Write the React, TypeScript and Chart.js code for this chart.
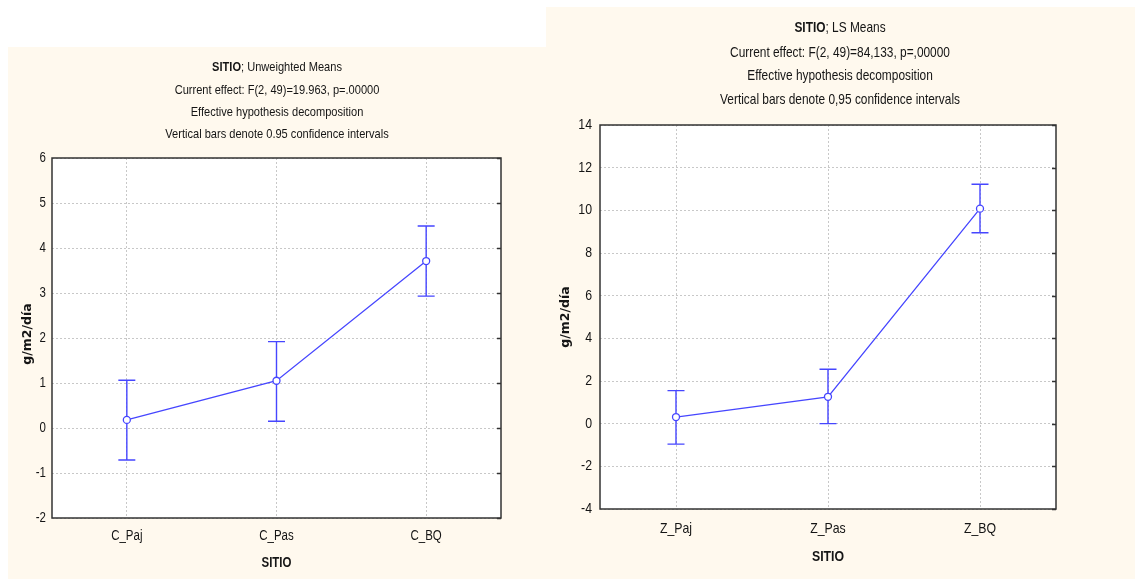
import React, { useEffect, useRef } from "react";
import { Chart, registerables } from "chart.js";

Chart.register(...registerables);

// ---- data: unweighted means (left) ----
const leftCategories = ["C_Paj", "C_Pas", "C_BQ"];
const leftMeans = [0.18, 1.05, 3.71];
const leftLower = [-0.71, 0.15, 2.93];
const leftUpper = [1.06, 1.92, 4.49];
const leftYTicks = [-2, -1, 0, 1, 2, 3, 4, 5, 6];
const leftHeadBold = "SITIO";
const leftHeadRest = "; Unweighted Means";
const leftHeadLines = [
  "Current effect: F(2, 49)=19.963, p=.00000",
  "Effective hypothesis decomposition",
  "Vertical bars denote 0.95 confidence intervals",
];

// ---- data: LS means (right) ----
const rightCategories = ["Z_Paj", "Z_Pas", "Z_BQ"];
const rightMeans = [0.31, 1.26, 10.08];
const rightLower = [-0.96, 0.0, 8.95];
const rightUpper = [1.55, 2.55, 11.22];
const rightYTicks = [-4, -2, 0, 2, 4, 6, 8, 10, 12, 14];
const rightHeadBold = "SITIO";
const rightHeadRest = "; LS Means";
const rightHeadLines = [
  "Current effect: F(2, 49)=84,133, p=,00000",
  "Effective hypothesis decomposition",
  "Vertical bars denote 0,95 confidence intervals",
];

const xAxisTitle = "SITIO";
const yAxisTitle = "g/m2/día";

// Arial-metric face, squeezed horizontally to a narrow cut
const SANS = '"Liberation Sans", Arial, sans-serif';
const NARROW_SCALE = 0.82;
const BOLD_TITLE = '"DejaVu Sans", Verdana, sans-serif';
const BLUE = "#4646ff";
const TEXT = "#151515";
const PANEL_BG = "#fff9ee";

type PanelSpec = {
  left: number;
  top: number;
  width: number;
  height: number;
  area: { l: number; t: number; r: number; b: number };
  categories: string[];
  means: number[];
  lower: number[];
  upper: number[];
  yTicks: number[];
  headBold: string;
  headRest: string;
  headLines: string[];
  headX: number;
  headY: number[];
  headSize: number;
  tickSize: number;
  yLabelRight: number;
  xLabelY: number;
  xTitleY: number;
  xTitleSize: number;
  yTitleX: number;
  yTitleShift: number;
};

const panels: PanelSpec[] = [
  {
    left: 8,
    top: 47,
    width: 538,
    height: 532,
    area: { l: 44, t: 111, r: 493, b: 471 },
    categories: leftCategories,
    means: leftMeans,
    lower: leftLower,
    upper: leftUpper,
    yTicks: leftYTicks,
    headBold: leftHeadBold,
    headRest: leftHeadRest,
    headLines: leftHeadLines,
    headX: 269,
    headY: [20, 43, 65, 87],
    headSize: 13.5,
    tickSize: 14,
    yLabelRight: 38,
    xLabelY: 489,
    xTitleY: 516,
    xTitleSize: 14,
    yTitleX: 20,
    yTitleShift: -4,
  },
  {
    left: 546,
    top: 7,
    width: 589,
    height: 572,
    area: { l: 54, t: 118, r: 510, b: 502 },
    categories: rightCategories,
    means: rightMeans,
    lower: rightLower,
    upper: rightUpper,
    yTicks: rightYTicks,
    headBold: rightHeadBold,
    headRest: rightHeadRest,
    headLines: rightHeadLines,
    headX: 294,
    headY: [21, 46, 69, 93],
    headSize: 14.5,
    tickSize: 15,
    yLabelRight: 46,
    xLabelY: 522,
    xTitleY: 550,
    xTitleSize: 15,
    yTitleX: 20,
    yTitleShift: 0,
  },
];

function narrowWidth(ctx: CanvasRenderingContext2D, text: string, font: string) {
  ctx.font = font;
  return ctx.measureText(text).width * NARROW_SCALE;
}

function drawNarrow(
  ctx: CanvasRenderingContext2D,
  text: string,
  x: number,
  y: number,
  font: string,
  align: "left" | "center" | "right"
) {
  ctx.save();
  ctx.font = font;
  ctx.textAlign = align;
  ctx.textBaseline = "middle";
  ctx.translate(x, y);
  ctx.scale(NARROW_SCALE, 1);
  ctx.fillText(text, 0, 0);
  ctx.restore();
}

function makeDecorPlugin(p: PanelSpec) {
  return {
    id: "statDecor",
    beforeDraw(chart: any) {
      const { ctx, chartArea } = chart;
      ctx.save();
      ctx.fillStyle = "#ffffff";
      ctx.fillRect(chartArea.left, chartArea.top, chartArea.right - chartArea.left, chartArea.bottom - chartArea.top);
      ctx.restore();
    },
    beforeDatasetsDraw(chart: any) {
      // confidence-interval whiskers, drawn under the line and markers
      const { ctx } = chart;
      const xs = chart.scales.x;
      const ys = chart.scales.y;
      ctx.save();
      ctx.strokeStyle = BLUE;
      ctx.lineWidth = 1.4;
      const cap = 8.5;
      p.categories.forEach((_, i) => {
        const x = xs.getPixelForValue(i);
        const yl = ys.getPixelForValue(p.lower[i]);
        const yu = ys.getPixelForValue(p.upper[i]);
        ctx.beginPath();
        ctx.moveTo(x, yl);
        ctx.lineTo(x, yu);
        ctx.moveTo(x - cap, yl);
        ctx.lineTo(x + cap, yl);
        ctx.moveTo(x - cap, yu);
        ctx.lineTo(x + cap, yu);
        ctx.stroke();
      });
      ctx.restore();
    },
    afterDraw(chart: any) {
      const { ctx, chartArea } = chart;
      const xs = chart.scales.x;
      const ys = chart.scales.y;
      ctx.save();
      // frame round the plot area
      ctx.strokeStyle = "#333333";
      ctx.lineWidth = 1.5;
      ctx.strokeRect(chartArea.left, chartArea.top, chartArea.right - chartArea.left, chartArea.bottom - chartArea.top);
      // inward ticks on the right edge
      ys.ticks.forEach((t: any) => {
        const y = Math.round(ys.getPixelForValue(t.value)) + 0.5;
        ctx.beginPath();
        ctx.moveTo(chartArea.right - 4, y);
        ctx.lineTo(chartArea.right, y);
        ctx.stroke();
      });

      ctx.fillStyle = TEXT;
      const tickFont = `${p.tickSize}px ${SANS}`;
      // y tick labels
      ys.ticks.forEach((t: any) => {
        drawNarrow(ctx, String(t.value), p.yLabelRight, ys.getPixelForValue(t.value), tickFont, "right");
      });
      // x tick labels
      xs.ticks.forEach((t: any, i: number) => {
        drawNarrow(ctx, p.categories[i], xs.getPixelForValue(i), p.xLabelY, tickFont, "center");
      });

      // header block
      const boldFont = `bold ${p.headSize}px ${SANS}`;
      const regFont = `${p.headSize}px ${SANS}`;
      const wb = narrowWidth(ctx, p.headBold, boldFont);
      const wr = narrowWidth(ctx, p.headRest, regFont);
      const x0 = p.headX - (wb + wr) / 2;
      drawNarrow(ctx, p.headBold, x0, p.headY[0], boldFont, "left");
      drawNarrow(ctx, p.headRest, x0 + wb, p.headY[0], regFont, "left");
      p.headLines.forEach((line, i) => {
        drawNarrow(ctx, line, p.headX, p.headY[i + 1], regFont, "center");
      });

      // x axis title
      drawNarrow(
        ctx,
        xAxisTitle,
        (chartArea.left + chartArea.right) / 2,
        p.xTitleY,
        `bold ${p.xTitleSize}px ${SANS}`,
        "center"
      );

      // y axis title
      ctx.save();
      ctx.translate(p.yTitleX, (chartArea.top + chartArea.bottom) / 2 + p.yTitleShift);
      ctx.rotate(-Math.PI / 2);
      ctx.font = `bold 12.5px ${BOLD_TITLE}`;
      ctx.textAlign = "center";
      ctx.textBaseline = "middle";
      ctx.fillText(yAxisTitle, 0, 0);
      ctx.restore();
      ctx.restore();
    },
  };
}

function Panel({ p }: { p: PanelSpec }) {
  const ref = useRef<HTMLCanvasElement | null>(null);
  useEffect(() => {
    if (!ref.current) return;
    const yMin = p.yTicks[0];
    const yMax = p.yTicks[p.yTicks.length - 1];
    const step = p.yTicks[1] - p.yTicks[0];
    const chart = new Chart(ref.current, {
      type: "line",
      data: {
        labels: p.categories,
        datasets: [
          {
            data: p.means,
            borderColor: BLUE,
            borderWidth: 1.3,
            pointRadius: 3.5,
            pointBorderWidth: 1.3,
            pointBackgroundColor: "#ffffff",
            pointBorderColor: BLUE,
            tension: 0,
            fill: false,
          },
        ],
      },
      options: {
        responsive: false,
        animation: false,
        devicePixelRatio: 1,
        layout: {
          padding: { left: 0, top: p.area.t, right: p.width - p.area.r, bottom: 0 },
        },
        plugins: {
          legend: { display: false },
          tooltip: { enabled: false },
          title: { display: false },
        },
        scales: {
          x: {
            type: "category",
            offset: true,
            grid: {
              offset: false,
              color: "#c8c8c8",
              drawTicks: false,
              tickLength: 0,
            },
            border: { display: false, dash: [2, 2] },
            ticks: { display: false },
            afterFit(scale: any) {
              scale.height = p.height - p.area.b;
            },
          },
          y: {
            type: "linear",
            min: yMin,
            max: yMax,
            grid: {
              color: "#c8c8c8",
              drawTicks: false,
              tickLength: 0,
            },
            border: { display: false, dash: [2, 2] },
            ticks: { display: false, stepSize: step },
            afterFit(scale: any) {
              scale.width = p.area.l;
            },
          },
        },
      },
      plugins: [makeDecorPlugin(p)],
    } as any);
    return () => chart.destroy();
  }, [p]);
  return (
    <div
      style={{
        position: "absolute",
        left: p.left,
        top: p.top,
        width: p.width,
        height: p.height,
        background: PANEL_BG,
      }}
    >
      <canvas ref={ref} width={p.width} height={p.height} style={{ display: "block" }} />
    </div>
  );
}

export default function App() {
  return (
    <div
      style={{
        position: "absolute",
        left: 0,
        top: 0,
        width: 1135,
        height: 579,
        background: "#ffffff",
        overflow: "hidden",
      }}
    >
      {panels.map((p, i) => (
        <Panel key={i} p={p} />
      ))}
    </div>
  );
}
